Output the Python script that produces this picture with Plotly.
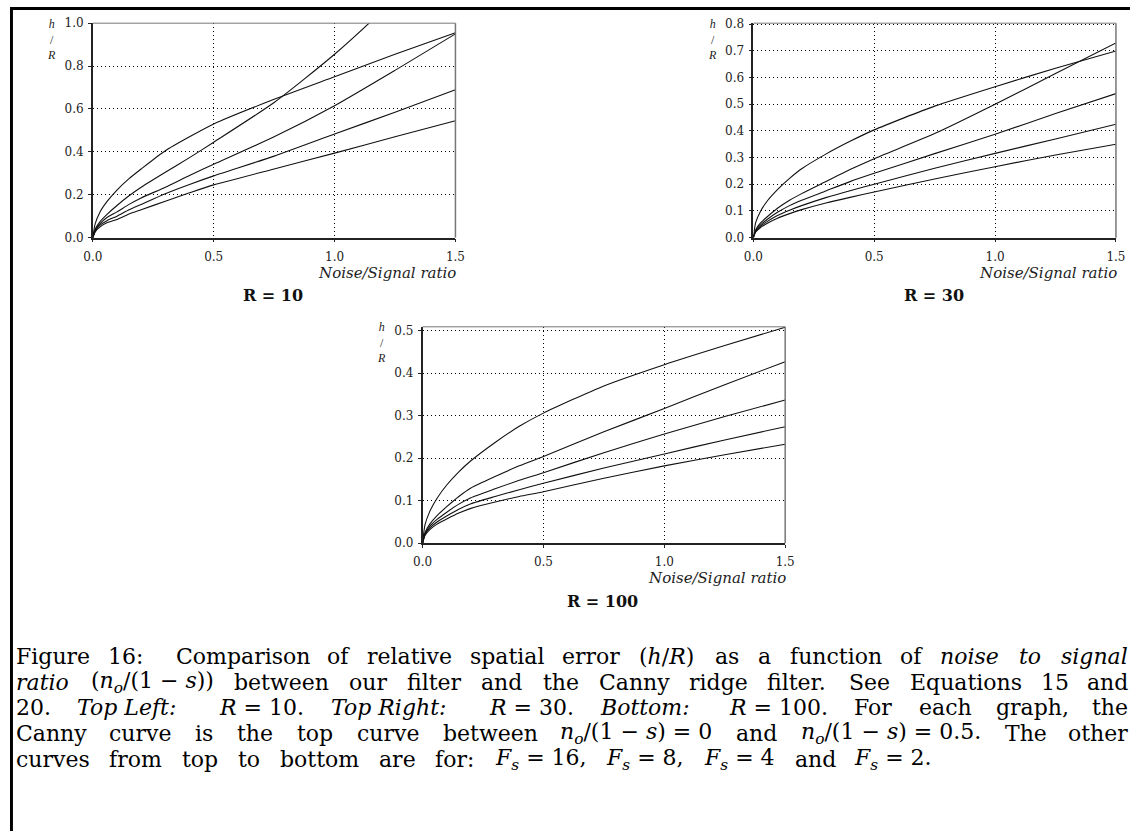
import re
import plotly.graph_objects as go

W, H = 1140, 838
# The photographed page carries an 8 px body margin and is then fitted back to
# 1140x838; positions below are given in picture pixels and mapped through that.
OFF = 8
SX = W / (W + 2 * OFF)
SY = H / (H + 2 * OFF)

# ---------------- data ----------------
noise_signal = [0, 0.01, 0.03, 0.06, 0.1, 0.15, 0.2, 0.3, 0.4, 0.5, 0.75, 1.0, 1.25, 1.5]

# R = 10
r10_canny = [0, 0.065, 0.12, 0.17, 0.222, 0.275, 0.32, 0.405, 0.47, 0.53, 0.645, 0.75, 0.855, 0.955]
r10_fs16 = [0, 0.04, 0.075, 0.11, 0.15, 0.195, 0.235, 0.305, 0.373, 0.445, 0.63, 0.855, 1.115, 1.4]
r10_fs8 = [0, 0.035, 0.065, 0.095, 0.12, 0.155, 0.185, 0.235, 0.29, 0.342, 0.47, 0.615, 0.78, 0.95]
r10_fs4 = [0, 0.03, 0.058, 0.08, 0.1, 0.13, 0.155, 0.205, 0.248, 0.288, 0.38, 0.483, 0.585, 0.69]
r10_fs2 = [0, 0.027, 0.05, 0.07, 0.085, 0.11, 0.13, 0.17, 0.209, 0.246, 0.32, 0.394, 0.47, 0.545]

# R = 30
r30_canny = [0, 0.057, 0.099, 0.14, 0.18, 0.222, 0.258, 0.313, 0.361, 0.404, 0.493, 0.566, 0.635, 0.70]
r30_fs16 = [0, 0.03, 0.055, 0.08, 0.11, 0.14, 0.165, 0.21, 0.255, 0.296, 0.39, 0.5, 0.615, 0.73]
r30_fs8 = [0, 0.027, 0.048, 0.07, 0.095, 0.12, 0.14, 0.175, 0.21, 0.241, 0.315, 0.3875, 0.465, 0.54]
r30_fs4 = [0, 0.024, 0.043, 0.062, 0.083, 0.103, 0.12, 0.15, 0.176, 0.2, 0.26, 0.316, 0.37, 0.425]
r30_fs2 = [0, 0.021, 0.038, 0.055, 0.073, 0.09, 0.105, 0.13, 0.151, 0.171, 0.22, 0.266, 0.31, 0.35]

# R = 100
r100_canny = [0, 0.043, 0.075, 0.106, 0.137, 0.168, 0.194, 0.237, 0.275, 0.306, 0.37, 0.42, 0.465, 0.508]
r100_fs16 = [0, 0.025, 0.045, 0.065, 0.086, 0.11, 0.13, 0.157, 0.182, 0.204, 0.262, 0.317, 0.373, 0.427]
r100_fs8 = [0, 0.022, 0.04, 0.056, 0.073, 0.092, 0.107, 0.128, 0.148, 0.166, 0.213, 0.257, 0.298, 0.337]
r100_fs4 = [0, 0.02, 0.036, 0.05, 0.064, 0.08, 0.093, 0.11, 0.126, 0.141, 0.177, 0.21, 0.243, 0.274]
r100_fs2 = [0, 0.018, 0.032, 0.045, 0.057, 0.071, 0.082, 0.097, 0.11, 0.121, 0.153, 0.182, 0.208, 0.233]

x_ticks = [0, 0.5, 1.0, 1.5]
x_tick_text = ["0.0", "0.5", "1.0", "1.5"]
y_ticks_r10 = [0, 0.2, 0.4, 0.6, 0.8, 1.0]
y_ticks_r30 = [0, 0.1, 0.2, 0.3, 0.4, 0.5, 0.6, 0.7, 0.8]
y_ticks_r100 = [0, 0.1, 0.2, 0.3, 0.4, 0.5]

panel_titles = ["R = 10", "R = 30", "R = 100"]
x_title = "Noise/Signal ratio"
y_title = "<i>h</i><br>/<br><i>R</i>"

NB = "\u00a0"
caption_lines = [
    "Figure 16:" + NB * 2 + " Comparison of relative spatial error (<i>h</i>/<i>R</i>) as a function of "
    "<i>noise</i> <i>to</i> <i>signal</i>",
    "<i>ratio</i> (<i>n<sub>o</sub></i>/(1" + NB + "\u2212" + NB + "<i>s</i>)) between our filter and the "
    "Canny ridge filter. See Equations 15 and",
    "20. <i>Top" + NB + "Left:</i>" + NB * 2 + " <i>R</i>" + NB + "=" + NB + "10. <i>Top" + NB + "Right:</i>"
    + NB * 2 + " <i>R</i>" + NB + "=" + NB + "30. <i>Bottom:</i>" + NB * 2 + " <i>R</i>" + NB + "=" + NB
    + "100. For each graph, the",
    "Canny curve is the top curve between <i>n<sub>o</sub></i>/(1" + NB + "\u2212" + NB + "<i>s</i>)" + NB
    + "=" + NB + "0 and <i>n<sub>o</sub></i>/(1" + NB + "\u2212" + NB + "<i>s</i>)" + NB + "=" + NB
    + "0.5. The other",
    "curves from top to bottom are for: <i>F<sub>s</sub></i>" + NB + "=" + NB + "16, <i>F<sub>s</sub></i>"
    + NB + "=" + NB + "8, <i>F<sub>s</sub></i>" + NB + "=" + NB + "4 and <i>F<sub>s</sub></i>" + NB + "="
    + NB + "2.",
]
caption_extent = [(13, 1131), (13, 1131), (13, 1131), (13, 1131), (13, 934)]
caption_y = [656, 681.5, 707, 732.5, 759]

# ---------------- helpers (picture pixels -> paper coords) ----------------
def px_x(p):
    return (p / SX - OFF) / W


def px_y(p):
    return 1 - (p / SY - OFF) / H


_CW = {' ': .318, NB: .318, 'a': .596, 'b': .640, 'c': .550, 'd': .640, 'e': .592, 'f': .370,
       'g': .640, 'h': .644, 'i': .320, 'j': .316, 'k': .609, 'l': .320, 'm': .948, 'n': .644,
       'o': .602, 'p': .640, 'q': .640, 'r': .478, 's': .513, 't': .402, 'u': .644, 'v': .565,
       'w': .856, 'x': .564, 'y': .565, 'z': .523, 'B': .735, 'C': .720, 'E': .730, 'F': .694,
       'L': .693, 'R': .770, 'S': .685, 'T': .704, '.': .318, ',': .318, ':': .337, '(': .390,
       ')': .390, '/': .337, '=': .838, '\u2212': .838}


def est_width(html, size):
    w = 0.0
    sub = False
    for part in re.split(r"(<[^>]+>)", html):
        if part.startswith("<"):
            if part.strip("<>/").lower() == "sub":
                sub = not part.startswith("</")
            continue
        for ch in part:
            cw = _CW.get(ch, .636 if ch.isdigit() else .62)
            if sub:
                cw *= 0.7
            w += cw * size
    return (w + (2 if "<i>" in html else 0)) * SX


panels = [
    dict(box=(91, 455, 24, 238), yr=[0, 1.0], yt=y_ticks_r10,
         series=[r10_canny, r10_fs16, r10_fs8, r10_fs4, r10_fs2]),
    dict(box=(754, 1118, 24, 238), yr=[0, 0.804], yt=y_ticks_r30,
         series=[r30_canny, r30_fs16, r30_fs8, r30_fs4, r30_fs2]),
    dict(box=(422, 786, 327, 543), yr=[0, 0.509], yt=y_ticks_r100,
         series=[r100_canny, r100_fs16, r100_fs8, r100_fs4, r100_fs2]),
]

fig = go.Figure()
tickfont = dict(family="DejaVu Serif", size=12, color="#222")
shapes = []
annotations = []

for i, p in enumerate(panels, start=1):
    xa = "x" if i == 1 else f"x{i}"
    ya = "y" if i == 1 else f"y{i}"
    for s in p["series"]:
        fig.add_trace(go.Scatter(
            x=noise_signal, y=s, mode="lines", xaxis=xa, yaxis=ya,
            line=dict(color="#111", width=1.1, shape="spline", smoothing=0.6),
            showlegend=False, hoverinfo="skip"))
    l, r, t, b = p["box"]
    axis_common = dict(showline=True, linecolor="#222", linewidth=1.5, mirror=False,
                       ticks="outside", ticklen=3, tickcolor="#222", tickwidth=1,
                       showgrid=True, gridcolor="#000", griddash="1px,3px", gridwidth=1,
                       zeroline=False, tickfont=tickfont, fixedrange=True)
    fig.update_layout(**{
        ("xaxis" if i == 1 else f"xaxis{i}"): dict(
            axis_common, domain=[px_x(l), px_x(r)], range=[0, 1.5],
            tickvals=x_ticks, ticktext=x_tick_text, anchor=ya, ticklabelstandoff=4),
        ("yaxis" if i == 1 else f"yaxis{i}"): dict(
            axis_common, domain=[px_y(b), px_y(t)], range=p["yr"],
            tickvals=p["yt"], ticktext=[f"{v:.1f}" for v in p["yt"]], anchor=xa,
            ticklabelstandoff=2),
    })
    shapes.append(dict(type="line", xref=f"{xa} domain", yref=f"{ya} domain",
                       x0=0, x1=1, y0=1, y1=1, line=dict(color="#777", width=1)))
    shapes.append(dict(type="line", xref=f"{xa} domain", yref=f"{ya} domain",
                       x0=1, x1=1, y0=0, y1=1, line=dict(color="#777", width=1.5)))
    annotations.append(dict(text=f"<i>{x_title}</i>", xref="paper", yref="paper",
                            x=px_x(r + 3), y=px_y(b + 35), xanchor="right", yanchor="middle",
                            showarrow=False,
                            font=dict(family="DejaVu Serif", size=15, color="#222")))
    annotations.append(dict(text=f"<b>{panel_titles[i-1]}</b>", xref="paper", yref="paper",
                            x=px_x((l + r) / 2 - 1), y=px_y(b + 58), xanchor="center",
                            yanchor="middle", showarrow=False,
                            font=dict(family="DejaVu Serif", size=16, color="#111")))
    annotations.append(dict(text=y_title, xref="paper", yref="paper",
                            x=px_x(l - 41), y=px_y(t + 16), xanchor="center",
                            yanchor="middle", showarrow=False,
                            font=dict(family="Liberation Serif", size=12, color="#222")))

# caption: words spread over the reference's line extents (justified text)
CAP_SIZE = 22
for k, line in enumerate(caption_lines):
    words = line.split(" ")
    widths = [est_width(wd, CAP_SIZE) for wd in words]
    x0, x1 = caption_extent[k]
    gap = max((x1 - x0 - sum(widths)) / max(len(words) - 1, 1), 5)
    yc = px_y(caption_y[k])
    x = x0
    for j, wd in enumerate(words):
        last = j == len(words) - 1
        annotations.append(dict(text=wd, xref="paper", yref="paper",
                                x=px_x(x1 if last else x), y=yc,
                                xanchor="right" if last else "left", yanchor="middle",
                                showarrow=False, borderpad=0,
                                font=dict(family="DejaVu Serif", size=CAP_SIZE, color="#000")))
        x += widths[j] + gap

# page frame (thick top and left edges)
shapes.append(dict(type="rect", xref="paper", yref="paper", x0=0, x1=3 / W, y0=0, y1=1,
                   fillcolor="#000", line=dict(width=0), layer="above"))
shapes.append(dict(type="rect", xref="paper", yref="paper", x0=0, x1=1, y0=1 - 3 / H, y1=1,
                   fillcolor="#000", line=dict(width=0), layer="above"))

fig.update_layout(width=W, height=H, margin=dict(l=0, r=0, t=0, b=0),
                  paper_bgcolor="white", plot_bgcolor="white",
                  shapes=shapes, annotations=annotations, showlegend=False)

fig.write_html("out.html", config={"displayModeBar": False})
